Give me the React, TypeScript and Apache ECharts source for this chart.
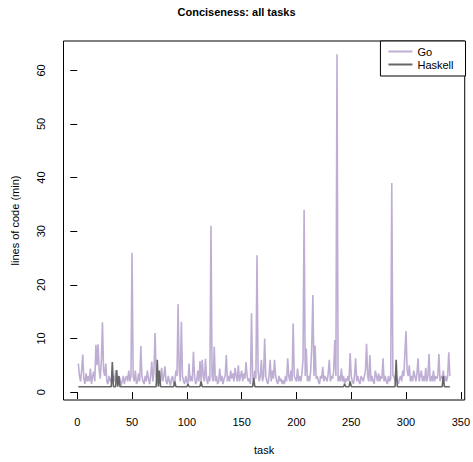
import React, { useEffect, useRef } from "react";
import * as echarts from "echarts";

const goValues: number[] = [
  5.3, 3, 2, 4, 7, 2.5, 1.5, 3.5, 2, 3,
  2, 4.4, 1.5, 3, 3.8, 2, 8.8, 5, 8.9, 4,
  2.5, 6, 13, 4, 3, 5.3, 2, 1.5, 3, 2,
  2.5, 1.5, 3, 2, 4, 2, 1.5, 3, 2.5, 1.2,
  2, 3, 1.5, 2.5, 3, 2, 4, 2, 3, 26,
  3, 2, 4, 1.5, 2, 3.5, 2, 8.6, 3, 2,
  1.5, 3, 2, 4, 2.5, 1.5, 3, 5.7, 2, 4,
  11, 3, 2, 1.5, 3, 2, 4.5, 2, 3, 4.8,
  2, 1.5, 3, 2, 1.2, 2.5, 3, 1.5, 2, 4,
  3, 16.4, 4, 2, 13.1, 3, 2, 1.5, 3, 2,
  1.5, 5.3, 2, 3, 2, 7.5, 3, 1.5, 2, 4,
  2, 5.8, 2, 6, 3, 2, 6.2, 2.5, 1.5, 3,
  2, 31, 3, 2, 8.5, 2, 3, 1.5, 2, 4.4,
  2, 3, 1.5, 2.5, 3, 6.9, 2, 3, 2, 4,
  2.5, 3.5, 2, 4.5, 3, 2, 5, 2, 3, 4,
  2, 3.5, 2.5, 5.6, 3, 2, 2.5, 1.5, 14.7, 3,
  2, 4, 2.5, 25.5, 4, 2, 3, 6, 2, 3,
  10, 3, 2, 1.5, 3, 6, 2, 4, 2.5, 6,
  3, 2, 1.5, 3, 2, 2.5, 1.5, 2.2, 1.5, 3,
  2, 6.3, 3, 2, 4, 2, 12.8, 3, 2.5, 2,
  4.4, 2, 3, 2, 3.5, 6, 34, 3, 8.1, 2,
  3, 2, 4, 8.7, 18.1, 3, 8.7, 2.5, 3, 2,
  1.5, 3, 2.5, 4.7, 2, 3, 2.5, 2, 3.5, 6,
  2, 3, 2.5, 4, 9.7, 3, 63, 2, 3, 2,
  4.4, 2, 3, 1.5, 2.5, 2, 3, 2, 7.3, 3,
  2, 1.5, 3, 6.3, 2, 3, 2, 1.5, 3, 2.5,
  2, 3, 4, 9, 3, 2, 6.9, 2, 3, 2,
  1.5, 4, 3, 2, 3.5, 2, 3, 2.5, 6.3, 2,
  3, 2, 1.5, 3, 2, 2.5, 39, 3, 3, 2,
  3, 2, 1.5, 2.5, 3, 2, 4, 3, 7.4, 11.4,
  4, 3, 5, 2, 3, 2, 4, 3, 2, 3.5,
  6.3, 2, 3, 4, 2, 3, 2, 4.5, 2, 3,
  7.1, 2, 3, 2, 4, 2, 3, 2.5, 3, 7.1,
  2, 3, 2.5, 4, 2, 3, 2, 3, 7.4, 3,
];

// Haskell: 1 everywhere except these tasks
const haskellSpikeTasks: number[] = [32, 36, 38, 73, 75, 89, 101, 113, 161, 244, 249, 291, 334];
const haskellSpikeValues: number[] = [5.6, 4.1, 3, 6, 4, 2, 1.5, 2, 2.6, 1.5, 2, 6, 3];
const haskellBase: number[] = goValues.map(() => 1);

const xTicks: number[] = [0, 50, 100, 150, 200, 250, 300, 350];
const yTicks: number[] = [0, 10, 20, 30, 40, 50, 60];

const FONT = "'Liberation Sans', Arial, Helvetica, sans-serif";

export default function App() {
  const ref = useRef<HTMLDivElement>(null);
  useEffect(() => {
    if (!ref.current) return;
    const chart = echarts.init(ref.current, undefined, { renderer: "svg" });
    const haskellValues = haskellBase.slice();
    haskellSpikeTasks.forEach((t, i) => {
      haskellValues[t - 1] = haskellSpikeValues[i];
    });
    const goData = goValues.map((v, i) => [i + 1, v]);
    const hsData = haskellValues.map((v, i) => [i + 1, v]);
    const n = goValues.length;
    const xPad = (n - 1) * 0.04;
    const yMin = 1, yMax = 63;
    const yPad = (yMax - yMin) * 0.04;

    chart.setOption({
      animation: false,
      backgroundColor: "#ffffff",
      textStyle: { fontFamily: FONT },
      title: {
        text: "Conciseness: all tasks",
        left: "center",
        top: 1,
        textStyle: { fontFamily: FONT, fontWeight: "bold", fontSize: 11, color: "#000" },
      },
      legend: {
        orient: "vertical",
        right: 7.5,
        top: 41,
        itemWidth: 24,
        itemHeight: 2,
        itemGap: 2,
        padding: [5, 12, 6, 8],
        borderColor: "#000",
        borderWidth: 1,
        icon: "rect",
        backgroundColor: "#fff",
        textStyle: { fontFamily: FONT, fontSize: 11, color: "#000" },
        data: ["Go", "Haskell"],
      },
      grid: {
        left: 63.5,
        right: 7.5,
        top: 41,
        bottom: 62,
        show: true,
        borderColor: "#000",
        borderWidth: 1,
      },
      xAxis: {
        type: "value",
        min: 1 - xPad,
        max: n + xPad,
        name: "task",
        nameLocation: "middle",
        nameGap: 44,
        nameTextStyle: { fontFamily: FONT, fontSize: 11, color: "#000" },
        axisLine: { show: false },
        axisTick: { show: true, length: 7, lineStyle: { color: "#000" }, customValues: xTicks },
        axisLabel: { margin: 16, fontFamily: FONT, fontSize: 11, color: "#000", customValues: xTicks },
        splitLine: { show: false },
      },
      yAxis: {
        type: "value",
        min: yMin - yPad,
        max: yMax + yPad,
        name: "lines of code (min)",
        nameLocation: "middle",
        nameGap: 43,
        nameRotate: 90,
        nameTextStyle: { fontFamily: FONT, fontSize: 11, color: "#000" },
        axisLine: { show: false },
        axisTick: { show: true, length: 7, lineStyle: { color: "#000" }, customValues: yTicks },
        axisLabel: { margin: 17, rotate: 90, fontFamily: FONT, fontSize: 11, color: "#000", customValues: yTicks },
        splitLine: { show: false },
      },
      series: [
        {
          name: "Go",
          type: "line",
          data: goData,
          symbol: "none",
          showSymbol: false,
          color: "#BEAED4",
          lineStyle: { color: "#BEAED4", width: 1.6 },
        },
        {
          name: "Haskell",
          type: "line",
          data: hsData,
          symbol: "none",
          showSymbol: false,
          color: "#666666",
          lineStyle: { color: "#666666", width: 1.6 },
        },
      ],
    });
    return () => chart.dispose();
  }, []);
  return (
    <div
      ref={ref}
      style={{ position: "fixed", left: 0, top: 0, width: 473, height: 462 }}
    />
  );
}
